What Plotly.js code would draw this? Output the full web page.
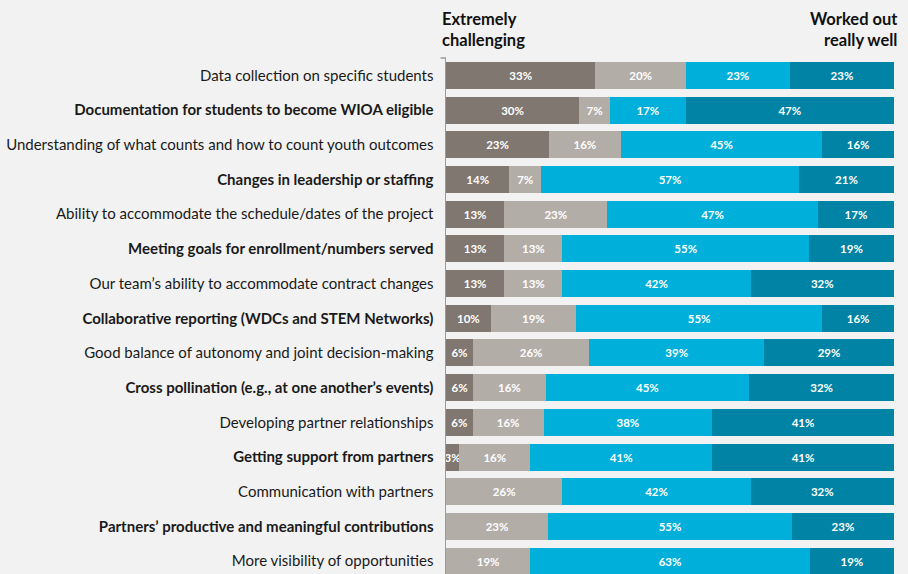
<!DOCTYPE html>
<html><head><meta charset="utf-8">
<script src="https://cdn.plot.ly/plotly-3.0.1.min.js"></script>
<style>html,body{margin:0;padding:0;background:#f2f2f2;}#chart{width:908px;height:574px;}</style>
</head><body><div id="chart"></div>
<script>
const categories = [
  "Data collection on specific students",
  "Documentation for students to become WIOA eligible",
  "Understanding of what counts and how to count youth outcomes",
  "Changes in leadership or staffing",
  "Ability to accommodate the schedule/dates of the project",
  "Meeting goals for enrollment/numbers served",
  "Our team\u2019s ability to accommodate contract changes",
  "Collaborative reporting (WDCs and STEM Networks)",
  "Good balance of autonomy and joint decision-making",
  "Cross pollination (e.g., at one another\u2019s events)",
  "Developing partner relationships",
  "Getting support from partners",
  "Communication with partners",
  "Partners\u2019 productive and meaningful contributions",
  "More visibility of opportunities"
];
const boldLabel = [false,true,false,true,false,true,false,true,false,true,false,true,false,true,false];
const extremelyChallenging = [33,30,23,14,13,13,13,10,6,6,6,3,0,0,0];
const somewhatChallenging  = [20,7,16,7,23,13,13,19,26,16,16,16,26,23,19];
const workedOutWell        = [23,17,45,57,47,55,42,55,39,45,38,41,42,55,63];
const workedOutReallyWell  = [23,47,16,21,17,19,32,16,29,32,41,41,32,23,19];
const seriesNames = ["Extremely challenging","Somewhat challenging","Worked out well","Worked out really well"];
const colors = ["#7f7770","#b3ada8","#00b0da","#0083a5"];

const series = [extremelyChallenging, somewhatChallenging, workedOutWell, workedOutReallyWell];
const totals = categories.map((c,i)=>series.reduce((s,a)=>s+a[i],0));

const traces = series.map((vals,k)=>({
  type:'bar', orientation:'h', name:seriesNames[k],
  y:categories,
  x:vals.map((v,i)=>v/totals[i]*100),
  text:vals.map(v=>v>0?v+'%':''),
  textposition:'inside', insidetextanchor:'middle', textangle:0,
  textfont:{family:'Lato, sans-serif', size:11.5, color:'#ffffff', weight:'bold'},
  marker:{color:colors[k], line:{width:0}},
  hoverinfo:'skip', cliponaxis:false, constraintext:'none'
}));

const layout = {
  width:908, height:574,
  paper_bgcolor:'#f2f2f2', plot_bgcolor:'#f2f2f2',
  barmode:'stack', bargap:0.22, showlegend:false,
  uniformtext:{mode:'show', minsize:11},
  margin:{l:446, r:14, t:58, b:0, pad:0},
  xaxis:{range:[0,100], showgrid:false, zeroline:false, showticklabels:false, showline:false, fixedrange:true},
  yaxis:{
    type:'category', categoryorder:'array', categoryarray:categories,
    range:[14.37,-0.5],
    tickmode:'array', tickvals:categories,
    ticktext:categories.map((c,i)=>boldLabel[i]?'<b>'+c+'</b>':c),
    tickfont:{family:'Lato, sans-serif', size:15, color:'#1a1a1a'},
    ticks:'', ticklen:0, showgrid:false, zeroline:false,
    showline:true, linecolor:'#9a9a9a', linewidth:1.5,
    ticklabelstandoff:8
  },
  shapes:[{type:'line', xref:'paper', yref:'paper', x0:-0.012, x1:0, y0:1, y1:1, line:{color:'#9a9a9a', width:1.5}}],
  annotations:[
    {xref:'paper', yref:'paper', x:-0.013, y:1.056, xanchor:'left', yanchor:'middle', align:'left', showarrow:false,
     text:'<b>Extremely<br>challenging</b>', font:{family:'Lato, sans-serif', size:16.5, color:'#111'}},
    {xref:'paper', yref:'paper', x:1.013, y:1.056, xanchor:'right', yanchor:'middle', align:'right', showarrow:false,
     text:'<b>Worked out<br>really well</b>', font:{family:'Lato, sans-serif', size:16.5, color:'#111'}}
  ]
};
Plotly.newPlot('chart', traces, layout, {displayModeBar:false, staticPlot:true});
</script></body></html>
